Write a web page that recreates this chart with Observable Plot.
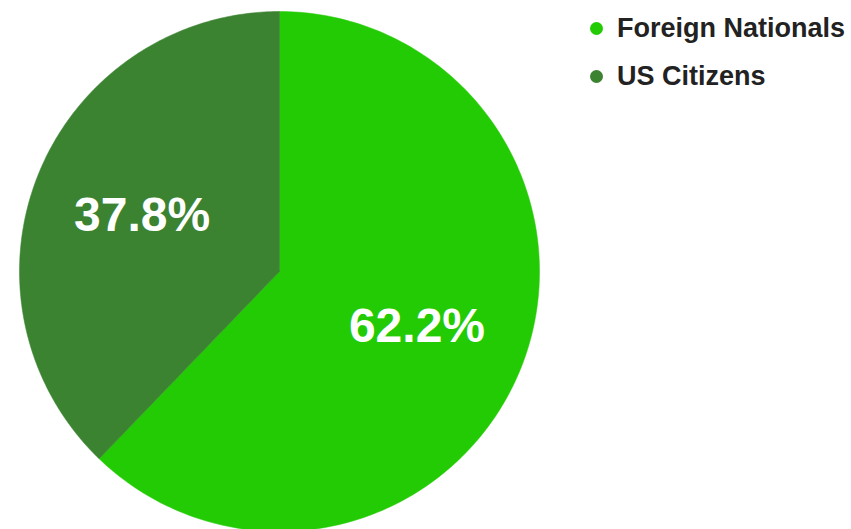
<!DOCTYPE html>
<html>
<head>
<meta charset="utf-8">
<script src="https://cdn.jsdelivr.net/npm/d3@7"></script>
<script src="https://cdn.jsdelivr.net/npm/@observablehq/plot@0.6"></script>
<style>
  html, body { margin: 0; padding: 0; background: #fff; }
  #wrap { position: relative; width: 851px; height: 529px; overflow: hidden; }
  #legend { position: absolute; left: 590px; top: 4px; font-family: "Liberation Sans", Arial, sans-serif; font-weight: bold; font-size: 27px; color: #222; }
  .item { display: flex; align-items: center; height: 48px; }
  .sw { width: 13px; height: 13px; border-radius: 50%; margin-right: 14px; }
</style>
</head>
<body>
<div id="wrap"><div id="chart"></div><div id="legend"></div></div>
<script>
const categories = ["Foreign Nationals", "US Citizens"];
const values = [62.2, 37.8];
const colors = ["#23cb05", "#3b8331"];
const labels = ["62.2%", "37.8%"];

const W = 851, H = 529;
const cx = 279, cy = 271, R = 260;

const data = categories.map((c, i) => ({category: c, value: values[i], label: labels[i], color: colors[i]}));
const arcs = d3.pie().sort(null).value(d => d.value)(data);

// polygon outline for each slice (unit-radius coordinates, angle clockwise from top)
const polys = arcs.map(a => {
  const pts = [{x: 0, y: 0, category: a.data.category}];
  const n = 200;
  for (let k = 0; k <= n; k++) {
    const t = a.startAngle + (a.endAngle - a.startAngle) * k / n;
    pts.push({x: Math.sin(t), y: Math.cos(t), category: a.data.category});
  }
  pts.push({x: 0, y: 0, category: a.data.category});
  return pts;
});

const labelPts = arcs.map(a => {
  const m = (a.startAngle + a.endAngle) / 2;
  return {x: 0.57 * Math.sin(m), y: 0.57 * Math.cos(m), label: a.data.label};
});

const marks = polys.map((p, i) => Plot.line(p, {x: "x", y: "y", fill: colors[i], stroke: colors[i], strokeWidth: 0.5, curve: "linear"}));
marks.push(Plot.text(labelPts, {x: "x", y: "y", text: "label", fill: "#fff", fontSize: 48, fontWeight: "bold", fontFamily: "Liberation Sans, Arial, sans-serif"}));

const chart = Plot.plot({
  width: W, height: H,
  margin: 0,
  x: {domain: [-cx / R, (W - cx) / R], axis: null},
  y: {domain: [-(H - cy) / R, cy / R], axis: null},
  marks
});
document.getElementById("chart").appendChild(chart);

const legend = document.getElementById("legend");
categories.forEach((c, i) => {
  const it = document.createElement("div");
  it.className = "item";
  const sw = document.createElement("span");
  sw.className = "sw";
  sw.style.background = colors[i];
  const tx = document.createElement("span");
  tx.textContent = c;
  it.appendChild(sw); it.appendChild(tx);
  legend.appendChild(it);
});
</script>
</body>
</html>
